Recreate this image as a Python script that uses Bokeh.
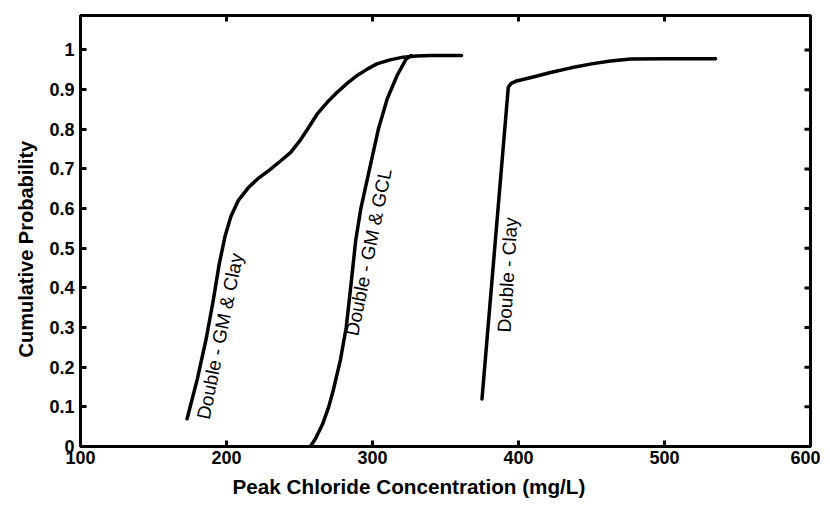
import math
from bokeh.plotting import figure
from bokeh.models import Range1d, FixedTicker, Label, Title
from bokeh.embed import file_html
from bokeh.resources import INLINE

# ---- data ----
x_ticks = [100, 200, 300, 400, 500, 600]
x_tick_labels = ["100", "200", "300", "400", "500", "600"]
y_ticks = [0, 0.1, 0.2, 0.3, 0.4, 0.5, 0.6, 0.7, 0.8, 0.9, 1.0]
y_tick_labels = ["0", "0.1", "0.2", "0.3", "0.4", "0.5", "0.6", "0.7", "0.8", "0.9", "1"]

gm_clay_x = [173, 180, 186, 191, 195, 199, 203, 208, 215, 222, 230, 237, 244, 250,
             255.5, 262, 269, 276, 283, 290, 297, 303, 312, 321, 330, 340, 361]
gm_clay_y = [0.07, 0.17, 0.27, 0.37, 0.46, 0.53, 0.58, 0.62, 0.653, 0.677, 0.699, 0.72, 0.742, 0.77,
             0.80, 0.838, 0.868, 0.894, 0.917, 0.937, 0.953, 0.965, 0.975, 0.982, 0.985, 0.986, 0.986]

gm_gcl_x = [257.5, 261, 266, 270, 273, 278, 282, 285.6, 288.5, 292, 298.6, 304, 310, 317, 323, 326.5]
gm_gcl_y = [0.0, 0.02, 0.058, 0.10, 0.14, 0.218, 0.30, 0.42, 0.52, 0.60, 0.71, 0.80, 0.876, 0.937, 0.977, 0.986]

clay_x = [375, 393, 395, 398, 410, 422.6, 436, 450, 463, 477, 500, 535]
clay_y = [0.12, 0.906, 0.916, 0.921, 0.932, 0.944, 0.955, 0.965, 0.972, 0.977, 0.978, 0.978]

series_names = ["Double - GM & Clay", "Double - GM & GCL", "Double - Clay"]
x_title = "Peak Chloride Concentration (mg/L)"
y_title = "Cumulative Probability"

X_MIN, X_MAX = 100, 600
Y_MIN, Y_MAX = 0, 1.087
FONT = "Liberation Sans"

p = figure(width=820, height=505,
           x_range=Range1d(X_MIN, X_MAX), y_range=Range1d(Y_MIN, Y_MAX),
           output_backend="svg", toolbar_location=None,
           min_border_left=80, min_border_right=10, min_border_top=15, min_border_bottom=59)
p.grid.grid_line_color = None
p.outline_line_color = "black"
p.outline_line_width = 3
p.background_fill_color = "white"
p.border_fill_color = "white"


def style_axis(ax):
    ax.axis_line_width = 3
    ax.axis_line_color = "black"
    ax.major_tick_in = 6
    ax.major_tick_out = 0
    ax.major_tick_line_width = 3
    ax.major_tick_line_color = "black"
    ax.minor_tick_in = 0
    ax.minor_tick_out = 0
    ax.major_label_text_font = FONT
    ax.major_label_text_font_style = "bold"
    ax.major_label_text_color = "black"
    ax.major_label_text_font_size = "18px"


xa = p.xaxis[0]
xa.ticker = FixedTicker(ticks=x_ticks)
xa.major_label_overrides = dict(zip(x_ticks, x_tick_labels))
style_axis(xa)
xa.major_label_standoff = 4

ya = p.yaxis[0]
ya.ticker = FixedTicker(ticks=y_ticks)
ya.major_label_overrides = dict(zip(y_ticks, y_tick_labels))
style_axis(ya)
ya.major_label_standoff = 6

# axis titles (off-centre, as in the reference)
p.add_layout(Title(text=x_title, align="left", offset=152, standoff=13,
                   text_font=FONT, text_font_size="20.7px", text_font_style="bold",
                   text_color="black"), "below")
p.add_layout(Title(text=y_title, align="left", offset=89, standoff=19,
                   text_font=FONT, text_font_size="20px", text_font_style="bold",
                   text_color="black"), "left")

# inward ticks on the top and right frame edges (pixel-sized dash markers, clipped to the frame)
p.scatter(x=x_ticks, y=[Y_MAX] * len(x_ticks), marker="dash", size=12, angle=math.pi / 2,
          line_color="black", line_width=3)
p.scatter(x=[X_MAX] * len(y_ticks), y=y_ticks, marker="dash", size=12,
          line_color="black", line_width=3)

for xs, ys in [(gm_clay_x, gm_clay_y), (gm_gcl_x, gm_gcl_y), (clay_x, clay_y)]:
    p.line(xs, ys, line_color="black", line_width=3.5, line_join="round", line_cap="round")

label_pos = [(195.5, 0.278, 78.5), (297.3, 0.49, 78.5), (392.5, 0.433, 86.5)]
for name, (lx, ly, ang) in zip(series_names, label_pos):
    p.add_layout(Label(x=lx, y=ly, text=name, angle=ang, angle_units="deg",
                       text_align="center", text_baseline="middle",
                       text_font=FONT, text_font_size="19px", text_font_style="normal",
                       text_color="black"))

open("out.html", "w").write(file_html(p, INLINE))
